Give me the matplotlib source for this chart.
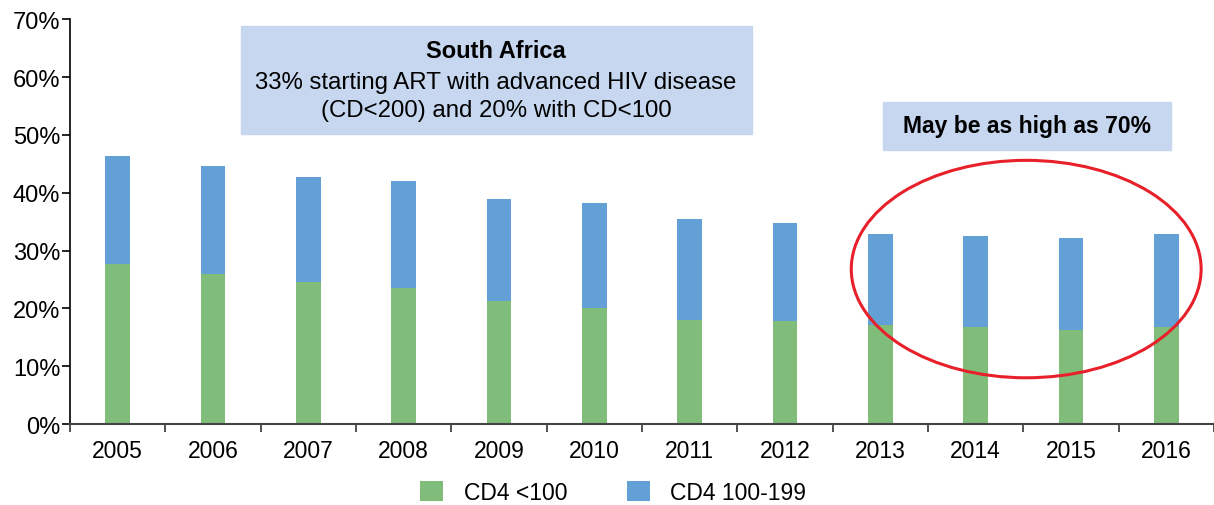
import numpy as np
import matplotlib
matplotlib.use('agg')
import matplotlib.pyplot as plt
from matplotlib.patches import Ellipse, Rectangle

plt.rcParams['font.family'] = ['Liberation Sans', 'DejaVu Sans']

# datos (%)
anios = ['2005', '2006', '2007', '2008', '2009', '2010',
         '2011', '2012', '2013', '2014', '2015', '2016']
cd4_menor_100 = [27.6, 25.9, 24.5, 23.5, 21.2, 20.0, 18.0, 17.8, 17.1, 16.8, 16.2, 16.8]
total_menor_200 = [46.3, 44.7, 42.7, 42.0, 39.0, 38.2, 35.4, 34.7, 32.8, 32.5, 32.1, 32.8]
cd4_100_199 = [t - v for t, v in zip(total_menor_200, cd4_menor_100)]

verde = '#80bd7b'
azul = '#62a0d6'
caja = '#c6d7ef'

fig = plt.figure(figsize=(12.14, 5.06), dpi=100)
ax = fig.add_axes([0.0577, 0.160, 0.9423, 0.800])

x = np.arange(len(anios))
ax.bar(x, cd4_menor_100, width=0.26, color=verde, label='CD4 <100')
ax.bar(x, cd4_100_199, width=0.26, bottom=cd4_menor_100, color=azul, label='CD4 100-199')

ax.set_xlim(-0.5, len(anios) - 0.5)
ax.set_ylim(0, 70)
ax.set_yticks(np.arange(0, 71, 10))
ax.set_yticklabels([f'{v}%' for v in range(0, 71, 10)], fontsize=17)
ax.set_xticks(x)
ax.set_xticklabels(anios, fontsize=16.5)
ax.set_xticks(np.arange(-0.5, len(anios), 1), minor=True)
ax.tick_params(axis='x', which='major', length=0, pad=11)
ax.tick_params(axis='x', which='minor', length=6, width=1.2, color='#333333')
ax.tick_params(axis='y', length=6, width=1.2, pad=1)

ax.spines['top'].set_visible(False)
ax.spines['right'].set_visible(False)
ax.spines['left'].set_linewidth(1.2)
ax.spines['bottom'].set_linewidth(1.5)
ax.spines['bottom'].set_color('#444444')

# cuadros de texto (coordenadas de figura)
fig.patches.append(Rectangle((241 / 1214, 1 - 135 / 506), 511 / 1214, 108 / 506,
                             transform=fig.transFigure, color=caja, zorder=1))
fig.patches.append(Rectangle((883 / 1214, 1 - 151 / 506), 288 / 1214, 48 / 506,
                             transform=fig.transFigure, color=caja, zorder=1))

fig.text(496 / 1214, 1 - 52 / 506, 'South Africa', ha='center', va='center',
         fontsize=17, fontweight='bold', zorder=3)
fig.text(496 / 1214, 1 - 97 / 506, '33% starting ART with advanced HIV disease\n(CD<200) and 20% with CD<100',
         ha='center', va='center', fontsize=17.3, linespacing=1.3, zorder=3)
fig.text(1027 / 1214, 1 - 127 / 506, 'May be as high as 70%', ha='center', va='center',
         fontsize=16.5, fontweight='bold', zorder=3)

ax.add_patch(Ellipse((9.53, 26.8), 3.67, 37.6, fill=False, edgecolor='#e8202a',
                     linewidth=2.2, clip_on=False, zorder=5))

fig.legend(loc='center', bbox_to_anchor=(0.505, 0.025), ncol=2, frameon=False,
           fontsize=16.5, handlelength=1.0, handleheight=1.0, columnspacing=2.6,
           handletextpad=0.9)

fig.savefig('out.png', dpi=100)
plt.close()
